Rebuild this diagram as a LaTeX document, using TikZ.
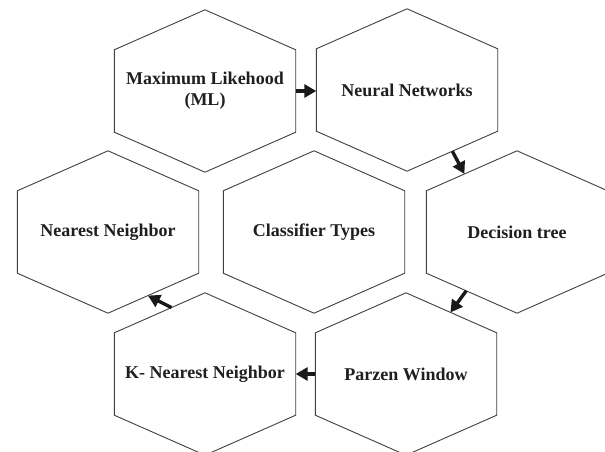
\documentclass[tikz,border=0pt]{standalone}
\usepackage{fontspec}
\setmainfont{Liberation Serif}
\usetikzlibrary{calc,arrows.meta}
\tikzset{
  hexbox/.style={rectangle, minimum width=181pt, minimum height=82pt, inner sep=0pt,
    align=center, text=black!88, font=\bfseries\fontsize{18}{21}\selectfont},
  hexline/.style={draw=black!75, line width=0.9pt, line join=miter},
  arr/.style={draw=black!90, line width=3.4pt, -{Triangle[length=12pt,width=13pt]}},
}
\newcommand\hexnode[4]{%
  \node[hexbox] (#1) at (#2,#3) {#4};
  \coordinate (#1-t) at ($(#1.north)+(0,-40)$);
  \coordinate (#1-b) at ($(#1.south)+(0,40)$);
  \path[hexline] (#1.north west) -- (#1-t) -- (#1.north east) -- (#1.south east)
    -- (#1-b) -- (#1.south west) -- cycle;}
\begin{document}
\begin{tikzpicture}[x=1pt,y=-1pt]
\useasboundingbox[fill=white] (0,0) rectangle (605,452);
\hexnode{ml}{205}{91}{Maximum Likehood\\(ML)}
\hexnode{nn}{407}{90}{Neural Networks}
\hexnode{nnb}{108}{232}{Nearest Neighbor}
\hexnode{ct}{314}{232}{Classifier Types}
\hexnode{dt}{517}{232}{Decision tree}
\hexnode{knn}{205}{374}{K- Nearest Neighbor}
\hexnode{pw}{406}{374}{Parzen Window}
\draw[arr] (ml.east) -- (nn.west |- ml.east);
\draw[arr] ($(nn.south east)!0.5!(nn-b)$) -- ($(dt-t)!0.58!(dt.north west)$);
\draw[arr] ($(dt.south west)!0.44!(dt-b)$) -- ($(pw-t)!0.49!(pw.north east)$);
\draw[arr] (pw.west) -- (knn.east);
\draw[arr] ($(knn.north west)!0.63!(knn-t)$) -- ($(nnb.south east)!0.56!(nnb-b)$);
\end{tikzpicture}
\end{document}
